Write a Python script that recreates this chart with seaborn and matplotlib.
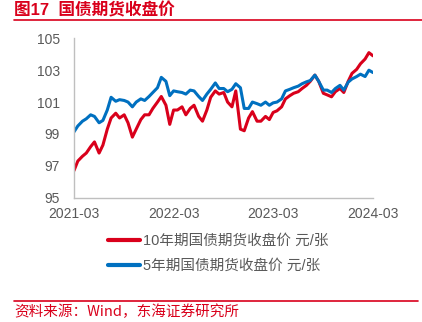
import numpy as np
import pandas as pd
import matplotlib
matplotlib.use("Agg")
import matplotlib.pyplot as plt
import matplotlib.dates as mdates
from matplotlib.lines import Line2D
import seaborn as sns

# ---------------- data ----------------
dates = pd.date_range("2021-03-01", "2024-03-01", freq="SMS")  # 1st & 15th of each month

t10 = [96.7, 97.3, 97.6, 97.8, 98.2, 98.5, 97.8, 98.3, 99.3, 100.0,
       100.3, 100.0, 100.2, 99.7, 98.8, 99.3, 99.9, 100.2, 100.2, 100.6,
       101.0, 101.35, 100.8, 99.6, 100.5, 100.5, 100.7, 100.2, 100.6, 100.8,
       100.1, 99.8, 100.5, 101.3, 101.7, 101.5, 101.6, 101.0, 100.7, 101.7,
       99.3, 99.2, 100.0, 100.4, 99.8, 99.8, 100.1, 99.9, 100.35, 100.45,
       100.7, 101.2, 101.4, 101.55, 101.65, 101.85, 102.05, 102.3, 102.69, 102.3,
       101.55, 101.45, 101.33, 101.65, 101.85, 101.6, 102.3, 102.8, 103.05, 103.4,
       103.7, 104.1, 103.9]

t5 = [99.13, 99.5, 99.8, 99.95, 100.2, 100.1, 99.7, 99.85, 100.5, 101.3,
      101.05, 101.15, 101.1, 101.0, 100.7, 101.0, 101.2, 101.1, 101.35, 101.6,
      101.9, 102.55, 102.3, 101.4, 101.7, 101.65, 101.6, 101.5, 101.75, 101.7,
      101.35, 101.1, 101.5, 101.8, 102.2, 101.85, 101.85, 101.65, 101.8, 102.15,
      101.9, 100.6, 100.6, 101.0, 100.9, 100.8, 101.0, 100.8, 100.95, 101.0,
      101.2, 101.7, 101.8, 101.9, 102.0, 102.15, 102.27, 102.35, 102.69, 102.3,
      101.75, 101.75, 101.6, 101.85, 102.05, 101.75, 102.25, 102.45, 102.6, 102.75,
      102.6, 103.0, 102.85]

series_names = ["10年期国债期货收盘价 元/张", "5年期国债期货收盘价 元/张"]
yticks = [95, 97, 99, 101, 103, 105]
xtick_labels = ["2021-03", "2022-03", "2023-03", "2024-03"]
title = "图17  国债期货收盘价"
source = "资料来源：Wind，东海证券研究所"

RED = "#D9001B"
BLUE = "#0070C0"
GRAY = "#595959"
AXGRAY = "#BFBFBF"

df = pd.concat([
    pd.DataFrame({"date": dates, "value": t10, "series": series_names[0]}),
    pd.DataFrame({"date": dates, "value": t5, "series": series_names[1]}),
])

# ---------------- figure ----------------
sns.set_style("white")
plt.rcParams["font.family"] = ["Liberation Sans", "Noto Sans CJK SC", "DejaVu Sans"]

W, H = 422, 322
fig = plt.figure(figsize=(W / 100, H / 100), dpi=100)
ax = fig.add_axes([74 / W, 1 - 197.7 / H, (373 - 74) / W, (197.7 - 38.3) / H])

sns.lineplot(data=df, x="date", y="value", hue="series",
             palette=[RED, BLUE], linewidth=2.2, ax=ax, legend=False)

ax.set_ylim(95, 105)
ax.set_yticks(yticks)
xt = pd.to_datetime([s + "-01" for s in xtick_labels])
ax.set_xlim(xt[0], xt[-1])
ax.set_xticks(xt)
ax.set_xticklabels(xtick_labels)
ax.set_xlabel("")
ax.set_ylabel("")

for s in ["top", "right"]:
    ax.spines[s].set_visible(False)
for s in ["left", "bottom"]:
    ax.spines[s].set_color(AXGRAY)
    ax.spines[s].set_linewidth(1.0)
ax.tick_params(axis="both", direction="out", length=4, width=1.0,
               color=AXGRAY, labelcolor=GRAY, labelsize=10, pad=3)
ax.tick_params(axis="y", pad=6)

# title and rules
fig.text(14 / W, 1 - 10 / H, title, color=RED, fontsize=12, fontweight="bold",
         va="center", ha="left",
         family=["Liberation Sans", "Noto Sans CJK SC"])
fig.add_artist(Line2D([14 / W, 1.0], [1 - 19.8 / H, 1 - 19.8 / H], color=RED, lw=1.2))
fig.add_artist(Line2D([14 / W, 418 / W], [1 - 300.5 / H, 1 - 300.5 / H], color=RED, lw=1.2))
fig.text(14 / W, 1 - 311.5 / H, source, color=RED, fontsize=10.5, va="center", ha="left",
         family=["Noto Sans CJK SC", "Liberation Sans"])

# legend
handles = [Line2D([], [], color=RED, lw=3.0), Line2D([], [], color=BLUE, lw=3.0)]
leg = fig.legend(handles, series_names, loc="upper left",
                 bbox_to_anchor=(108 / W, 1 - 234 / H), frameon=False,
                 fontsize=10.5, handlelength=2.2, handletextpad=0.2,
                 labelspacing=0.75, borderpad=0, borderaxespad=0)
for t in leg.get_texts():
    t.set_color(GRAY)

fig.savefig("out.png", dpi=100)
